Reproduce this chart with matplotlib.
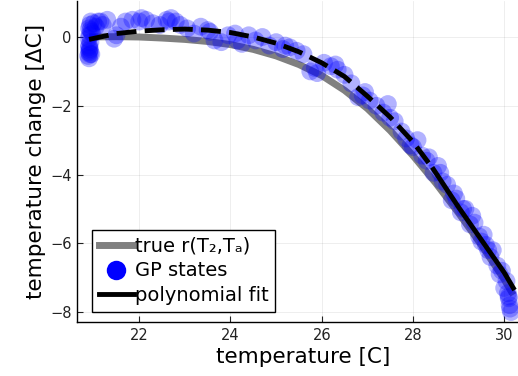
import matplotlib
matplotlib.use('Agg')
import matplotlib.pyplot as plt
from matplotlib.lines import Line2D

# true curve r(T2, Ta)
true_T = [20.9, 21.5, 22.0, 22.5, 23.0, 23.5, 24.0, 24.5, 25.0, 25.5, 26.0,
          26.5, 27.0, 27.5, 28.0, 28.5, 29.0, 29.5, 30.0, 30.2]
true_y = [0.0, 0.01, 0.0, -0.03, -0.07, -0.13, -0.22, -0.36, -0.55, -0.8,
          -1.12, -1.55, -2.08, -2.72, -3.45, -4.25, -5.12, -6.05, -7.05, -7.5]

# polynomial fit: dashed part and solid part
fit_dash_T = [20.9, 21.5, 22.0, 22.5, 23.0, 23.5, 24.0, 24.5, 25.0, 25.5,
              26.0, 26.5, 27.0, 27.5, 28.0, 28.45]
fit_dash_y = [-0.07, 0.1, 0.17, 0.21, 0.23, 0.2, 0.13, 0.0, -0.18, -0.43,
              -0.75, -1.15, -1.72, -2.33, -3.05, -3.85]
fit_solid_T = [28.45, 28.75, 29.0, 29.5, 30.0, 30.2]
fit_solid_y = [-3.85, -4.45, -4.95, -5.9, -6.85, -7.3]

# GP states
gp_T = [20.88, 20.9, 20.92, 20.9, 20.93, 20.89, 20.91, 20.95, 20.9, 20.92,
        20.94, 20.9, 20.97, 20.92, 21.0, 21.05, 21.1, 21.2, 21.3, 21.45,
        21.5, 21.6, 21.7, 21.85, 22.0, 22.15, 22.3, 22.45, 22.6, 22.7,
        22.8, 22.9, 23.05, 23.2, 23.35, 23.5, 23.65, 23.8, 23.95, 24.1,
        24.25, 24.4, 24.55, 24.7, 24.85, 25.0, 25.15, 25.3, 25.45, 25.6,
        25.75, 25.9, 26.05, 26.2, 26.35, 26.5, 26.65, 26.8, 26.95, 27.05,
        27.2, 27.35, 27.45, 27.6, 27.75, 27.85, 28.0, 28.1, 28.2, 28.35,
        28.45, 28.55, 28.65, 28.75, 28.85, 28.95, 29.05, 29.15, 29.25, 29.35,
        29.45, 29.55, 29.65, 29.75, 29.85, 29.95, 30.0, 30.05, 30.1, 30.12,
        30.08, 30.15, 29.3, 29.6, 29.9, 28.9, 20.91, 20.93, 21.15, 22.05,
        22.65, 23.55, 24.15, 25.2, 25.85, 26.3, 26.9, 27.5, 27.95, 28.6,
        29.1, 29.7, 30.1, 30.13, 29.5, 28.3, 20.9, 20.95]
gp_y = [-0.55, -0.45, -0.35, -0.25, -0.15, -0.05, 0.05, 0.15, 0.25, 0.35,
        0.45, -0.3, 0.1, -0.5, 0.4, 0.3, 0.45, 0.35, 0.5, -0.05,
        0.05, 0.3, 0.45, 0.5, 0.45, 0.5, 0.4, 0.35, 0.5, 0.55,
        0.45, 0.35, 0.25, 0.1, 0.3, 0.2, -0.1, -0.15, 0.05, 0.1,
        -0.2, 0.05, -0.1, 0.0, -0.25, -0.15, -0.35, -0.3, -0.4, -0.5,
        -1.0, -1.05, -0.75, -0.85, -0.95, -1.1, -1.35, -1.75, -1.6, -1.85,
        -2.0, -2.2, -1.95, -2.45, -2.75, -2.95, -3.2, -3.0, -3.45, -3.5,
        -3.95, -3.75, -4.2, -4.3, -4.75, -4.7, -5.1, -5.0, -5.45, -5.4,
        -5.8, -5.75, -6.2, -6.2, -6.65, -6.8, -7.3, -7.1, -7.55, -7.8,
        -7.45, -8.0, -5.2, -6.05, -6.9, -4.55, -0.4, 0.2, 0.45, 0.55,
        0.45, 0.15, -0.1, -0.25, -0.9, -0.8, -1.7, -2.35, -3.15, -3.95,
        -5.0, -6.4, -7.6, -7.9, -5.95, -3.6, -0.62, -0.5]

plt.rcParams.update({
    'font.family': 'DejaVu Sans',
})

fig = plt.figure(figsize=(5.18, 3.76), dpi=100)
ax = fig.add_axes([0.149, 0.1436, 0.871, 0.854])

ax.plot(true_T, true_y, color='#808080', linewidth=5, solid_capstyle='butt', zorder=2)
ax.scatter(gp_T, gp_y, s=165, color='#0000ff', alpha=0.3, edgecolors='none', zorder=3)
ax.plot(fit_dash_T, fit_dash_y, color='black', linewidth=3.5,
        dashes=(4.1, 1.7), zorder=4)
ax.plot(fit_solid_T, fit_solid_y, color='black', linewidth=3.5, zorder=4)

ax.set_xlim(20.64, 30.53)
ax.set_ylim(-8.29, 1.05)
ax.set_xticks([22, 24, 26, 28, 30])
ax.set_yticks([0, -2, -4, -6, -8])
ax.tick_params(direction='in', length=4, width=0.8, labelsize=10.5,
               colors='#222222', pad=4)
ax.grid(True, color='black', alpha=0.08, linewidth=0.6)
ax.set_axisbelow(True)
for side in ['top', 'right']:
    ax.spines[side].set_visible(False)
for side in ['left', 'bottom']:
    ax.spines[side].set_linewidth(1.0)
ax.set_xlabel('temperature [C]', fontsize=15.5, labelpad=3)
ax.set_ylabel('temperature change [ΔC]', fontsize=15.5, labelpad=3)

handles = [
    Line2D([], [], color='#808080', linewidth=5),
    Line2D([], [], linestyle='none', marker='o', markersize=14,
           markerfacecolor='#0000ff', markeredgecolor='none'),
    Line2D([], [], color='black', linewidth=3.5),
]
labels = ['true r(T₂,Tₐ)', 'GP states', 'polynomial fit']
leg = ax.legend(handles, labels, loc='lower left', bbox_to_anchor=(0.033, 0.031),
                borderaxespad=0, fontsize=14, fancybox=False, framealpha=1,
                edgecolor='black', handlelength=1.8, handletextpad=0.05,
                labelspacing=0.3, borderpad=0.35)
leg.get_frame().set_linewidth(1.0)

fig.savefig('out.png', dpi=100)
